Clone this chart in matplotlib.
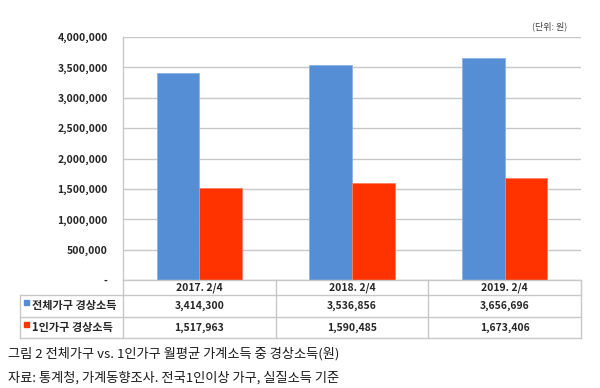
import matplotlib
matplotlib.use("Agg")
import matplotlib.pyplot as plt
from matplotlib.lines import Line2D
from matplotlib.patches import Rectangle
import numpy as np

plt.rcParams['font.family'] = ['Noto Sans CJK KR', 'DejaVu Sans']

categories = ["2017. 2/4", "2018. 2/4", "2019. 2/4"]
series_names = ["전체가구 경상소득", "1인가구 경상소득"]
total_hh = [3414300, 3536856, 3656696]
single_hh = [1517963, 1590485, 1673406]
yticks = [0, 500000, 1000000, 1500000, 2000000, 2500000, 3000000, 3500000, 4000000]
unit_label = "(단위: 원)"
caption1 = "그림 2 전체가구 vs. 1인가구 월평균 가계소득 중 경상소득(원)"
caption2 = "자료: 통계청, 가계동향조사. 전국1인이상 가구, 실질소득 기준"

colors = ["#558ED5", "#FF3300"]
W, H = 600, 388
fig = plt.figure(figsize=(W / 100, H / 100), dpi=100)
fig.patch.set_facecolor("white")

def fx(x):
    return x / W

def fy(y):
    return 1 - y / H

ax_l, ax_r, ax_t, ax_b = 123, 581, 37, 280
ax = fig.add_axes([fx(ax_l), fy(ax_b), (ax_r - ax_l) / W, (ax_b - ax_t) / H])
x = np.arange(len(categories))
bw = 0.28
ax.bar(x - bw / 2, total_hh, bw, color=colors[0], edgecolor="#8DB3E2", linewidth=0.6, zorder=3)
ax.bar(x + bw / 2, single_hh, bw, color=colors[1], edgecolor="#FF8060", linewidth=0.6, zorder=3)
ax.set_xlim(-0.5, len(categories) - 0.5)
ax.set_ylim(0, 4000000)
ax.set_yticks(yticks)
ax.set_yticklabels(["-" if v == 0 else f"{v:,}" for v in yticks], fontsize=7.5,
                   fontweight="bold", color="#262626")
ax.tick_params(axis="y", length=0, pad=11)
ax.set_xticks([])
ax.yaxis.grid(True, color="#C8C8C8", linewidth=1.0, zorder=0)
for s in ["top", "right", "bottom"]:
    ax.spines[s].set_visible(False)
ax.spines["left"].set_color("#C8C8C8")
ax.spines["left"].set_linewidth(1.0)

# table
lc = "#C8C8C8"
rows = [280, 295, 317, 338]
tl = 20
col_w = (ax_r - ax_l) / len(categories)
def hline(y, x0, x1):
    fig.add_artist(Line2D([fx(x0), fx(x1)], [fy(y), fy(y)], color=lc, lw=1.0))
def vline(x, y0, y1):
    fig.add_artist(Line2D([fx(x), fx(x)], [fy(y0), fy(y1)], color=lc, lw=1.0))

hline(rows[0], ax_l, ax_r)
for r in rows[1:]:
    hline(r, tl, ax_r)
vline(tl, rows[1], rows[3])
vline(ax_l, rows[0], rows[3])
for i in range(1, len(categories) + 1):
    vline(ax_l + i * col_w, rows[0], rows[3])

for i, c in enumerate(categories):
    cx = ax_l + (i + 0.5) * col_w
    fig.text(fx(cx), fy((rows[0] + rows[1]) / 2), c, ha="center", va="center",
             fontsize=7.5, fontweight="bold", color="#262626")
    for j, vals in enumerate([total_hh, single_hh]):
        cy = (rows[j + 1] + rows[j + 2]) / 2
        fig.text(fx(cx), fy(cy), f"{vals[i]:,}", ha="center", va="center",
                 fontsize=7.5, fontweight="bold", color="#262626")

for j, name in enumerate(series_names):
    cy = (rows[j + 1] + rows[j + 2]) / 2
    fig.add_artist(Rectangle((fx(24), fy(cy - 1)), 5 / W, 5 / H, color=colors[j],
                             transform=fig.transFigure))
    fig.text(fx(32), fy(cy), name, ha="left", va="center", fontsize=8,
             fontweight="bold", color="#262626")

fig.text(fx(567), fy(26), unit_label, ha="right", va="center", fontsize=6.5, color="#404040")
fig.text(fx(8), fy(354), caption1, ha="left", va="center", fontsize=9.5, color="#1a1a1a")
fig.text(fx(8), fy(378), caption2, ha="left", va="center", fontsize=9.5, color="#1a1a1a")

fig.savefig("out.png", dpi=100, facecolor="white")
